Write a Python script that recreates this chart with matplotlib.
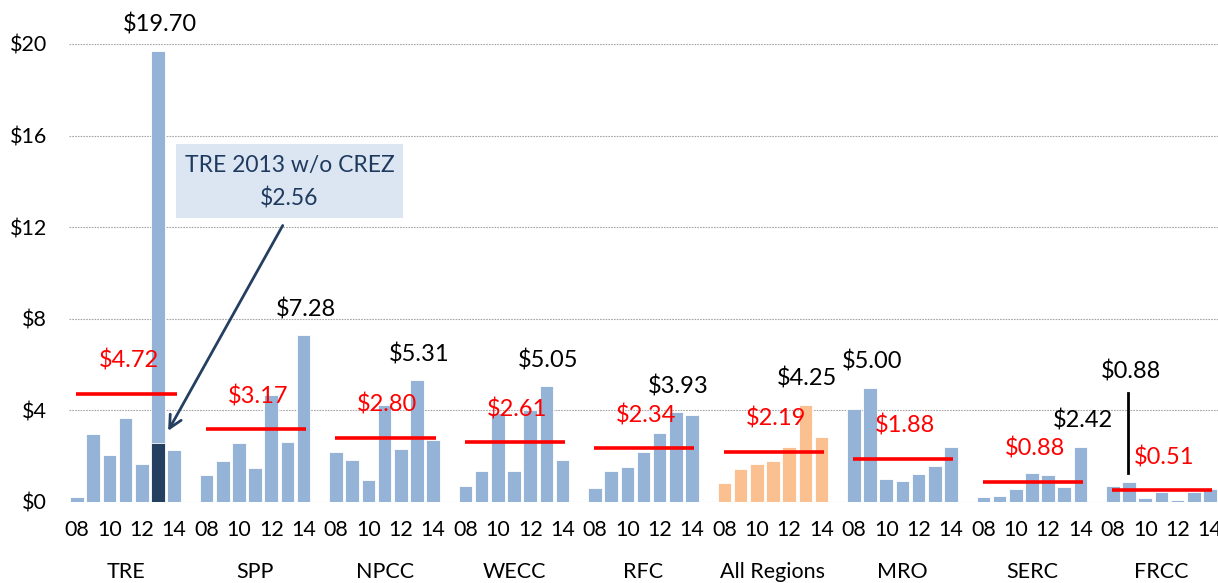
import matplotlib
matplotlib.use("Agg")
import matplotlib.pyplot as plt
from matplotlib.patches import Rectangle

plt.rcParams['font.family'] = ['Lato', 'DejaVu Sans']

groups = ['TRE', 'SPP', 'NPCC', 'WECC', 'RFC', 'All Regions', 'MRO', 'SERC', 'FRCC']
year_labels = ['08', '10', '12', '14']
year_label_idx = [0, 2, 4, 6]

tre = [0.20, 2.95, 2.06, 3.68, 1.66, 19.70, 2.28]
spp = [1.20, 1.77, 2.57, 1.47, 4.66, 2.63, 7.28]
npcc = [2.18, 1.82, 0.96, 4.23, 2.32, 5.31, 2.72]
wecc = [0.72, 1.37, 3.90, 1.34, 4.01, 5.05, 1.82]
rfc = [0.60, 1.37, 1.55, 2.20, 3.01, 3.93, 3.82]
all_regions = [0.85, 1.46, 1.68, 1.81, 2.38, 4.25, 2.82]
mro = [4.07, 5.00, 1.01, 0.91, 1.21, 1.58, 2.42]
serc = [0.23, 0.26, 0.55, 1.27, 1.18, 0.67, 2.42]
frcc = [0.68, 0.86, 0.19, 0.45, 0.09, 0.45, 0.57]
series = [tre, spp, npcc, wecc, rfc, all_regions, mro, serc, frcc]

averages = [4.72, 3.17, 2.80, 2.61, 2.34, 2.19, 1.88, 0.88, 0.51]
max_idx = [5, 6, 5, 5, 5, 5, 1, 6, 1]
max_labels = ['$19.70', '$7.28', '$5.31', '$5.05', '$3.93', '$4.25', '$5.00', '$2.42', '$0.88']

tre_2013_wo_crez = 2.56
yticks = [0, 4, 8, 12, 16, 20]

BLUE = '#95B3D7'
ORANGE = '#FAC090'
DARK = '#243F60'
RED = '#FF0000'

fig = plt.figure(figsize=(12.18, 5.83), dpi=100)
ax = fig.add_axes([69/1218, 81/583, 1149/1218, 458/583])

slot = 8
bw = 0.84
for g, vals in enumerate(series):
    xs = [g*slot + j for j in range(len(vals))]
    color = ORANGE if groups[g] == 'All Regions' else BLUE
    ax.bar(xs, vals, width=bw, color=color, edgecolor='white', linewidth=0.6, zorder=2)
    # average line
    x0 = g*slot
    ax.plot([x0 - 0.05, x0 + 6.15], [averages[g]]*2, color=RED, lw=2.6, zorder=4,
            solid_capstyle='butt')
    ax.annotate(f'${averages[g]:.2f}', (x0 + 3.05, averages[g]), xytext=(2, 33),
                textcoords='offset pixels', ha='center', va='center', color=RED,
                fontsize=17, zorder=5)
    # max label
    mi = max_idx[g]
    if groups[g] == 'FRCC':
        ax.text(x0 + mi + 0.1, 5.72, max_labels[g], ha='center', va='center',
                fontsize=17, color='black', zorder=5)
        ax.plot([x0 + mi - 0.05]*2, [4.76, 1.27], color='black', lw=2, zorder=5)
    else:
        ax.annotate(max_labels[g], (x0 + mi, vals[mi]), xytext=(2, 26),
                    textcoords='offset pixels', ha='center', va='center',
                    color='black', fontsize=17, zorder=5, annotation_clip=False)
    # year labels
    for lbl, j in zip(year_labels, year_label_idx):
        ax.text(x0 + j, -0.061, lbl, transform=ax.get_xaxis_transform(),
                ha='center', va='center', fontsize=15.5)
    ax.text(x0 + 3, -0.153, groups[g], transform=ax.get_xaxis_transform(),
            ha='center', va='center', fontsize=15.5)

# TRE 2013 without CREZ overlay
ax.bar([5], [tre_2013_wo_crez], width=bw, color=DARK, edgecolor='white', linewidth=0.6, zorder=3)

# callout box
ax.add_patch(Rectangle((6.11, 12.40), 14.03, 3.23, facecolor='#DCE6F2', edgecolor='none', zorder=6))
ax.text(13.13, 14.69, 'TRE 2013 w/o CREZ', ha='center', va='center', fontsize=16.5, color='#1F3A5F', zorder=7)
ax.text(13.13, 13.27, f'${tre_2013_wo_crez:.2f}', ha='center', va='center', fontsize=16.5, color='#1F3A5F', zorder=7)
ax.annotate('', xy=(5.54, 3.0), xytext=(12.79, 12.18),
            arrowprops=dict(arrowstyle='->,head_length=0.9,head_width=0.45', color=DARK, lw=2),
            zorder=7)

ax.set_xlim(-0.5, 70.5)
ax.set_ylim(0, 20)
ax.set_yticks(yticks)
ax.set_yticklabels([f'${v}' for v in yticks], fontsize=15.5)
ax.set_xticks([])
ax.tick_params(axis='y', length=0, pad=16)
for s in ax.spines.values():
    s.set_visible(False)
ax.yaxis.grid(True, color='#A6A6A6', linestyle=(0, (1.5, 1)), linewidth=0.8)
ax.set_axisbelow(True)
for lbl in ax.get_yticklabels():
    lbl.set_ha('right')

fig.savefig('out.png', dpi=100)
